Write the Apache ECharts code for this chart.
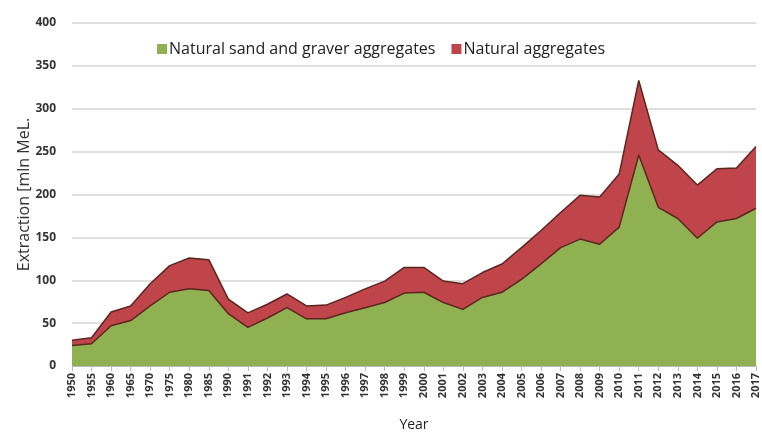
<!DOCTYPE html>
<html>
<head>
<meta charset="utf-8">
<script src="https://cdn.jsdelivr.net/npm/echarts@6/dist/echarts.min.js"></script>
<style>
  html, body { margin: 0; padding: 0; background: #fff; }
  #chart { width: 762px; height: 432px; }
</style>
</head>
<body>
<div id="chart"></div>
<script>
// years on the x axis
const years = ['1950', '1955', '1960', '1965', '1970', '1975', '1980', '1985', '1990',
  '1991', '1992', '1993', '1994', '1995', '1996', '1997', '1998', '1999', '2000',
  '2001', '2002', '2003', '2004', '2005', '2006', '2007', '2008', '2009', '2010',
  '2011', '2012', '2013', '2014', '2015', '2016', '2017']

// natural sand and gravel aggregates (bottom layer)
const sandGravel = [24, 26, 47, 53, 70, 86, 90, 88, 61,
  45, 56, 68, 55, 55, 62, 68, 74, 85, 86,
  74, 66, 80, 86, 101, 119, 138, 148, 142, 162,
  246, 185, 172, 149, 168, 172, 184]

// natural aggregates in total (top of the red layer)
const aggregatesTotal = [30, 33, 63, 70, 96, 117, 126, 124, 78,
  62, 72, 84, 70, 71, 80, 90, 99, 115, 115,
  99, 96, 109, 119, 138, 158, 179, 199, 197, 224,
  333, 252, 234, 211, 230, 231, 256]

const chart = echarts.init(document.getElementById('chart'))
const edge = { color: '#5b2620', width: 1.5 }

chart.setOption({
  animation: false,
  textStyle: { fontFamily: 'Open Sans' },
  legend: {
    data: ['Natural sand and graver aggregates', 'Natural aggregates'],
    top: 36,
    left: 152,
    itemWidth: 10,
    itemHeight: 10,
    itemGap: 16,
    icon: 'rect',
    textStyle: { color: '#222', fontSize: 16, fontFamily: 'Open Sans', padding: [0, 0, 0, -3] }
  },
  grid: { left: 72, right: 6, top: 23, bottom: 66, outerBoundsMode: 'none' },
  xAxis: {
    type: 'category',
    data: years,
    boundaryGap: false,
    name: 'Year',
    nameLocation: 'middle',
    nameGap: 52,
    nameTextStyle: { color: '#222', fontSize: 14 },
    axisLine: { lineStyle: { color: '#bbb' } },
    axisTick: { show: true, alignWithLabel: true, lineStyle: { color: '#bbb' } },
    axisLabel: {
      interval: 0,
      rotate: 90,
      color: '#333',
      fontSize: 11,
      fontWeight: 'bold',
      margin: 7
    }
  },
  yAxis: {
    type: 'value',
    min: 0,
    max: 400,
    interval: 50,
    name: 'Extraction [mln MeL.',
    nameLocation: 'middle',
    nameGap: 40,
    nameMoveOverlap: false,
    nameTextStyle: { color: '#333', fontSize: 16 },
    axisLine: { show: false },
    axisTick: { show: false },
    axisLabel: { color: '#333', fontSize: 12, fontWeight: 'bold', margin: 16 },
    splitLine: { lineStyle: { color: '#d4d4d4', width: 1.5 } }
  },
  series: [
    {
      name: 'Natural aggregates',
      type: 'line',
      data: aggregatesTotal,
      symbol: 'none',
      z: 2,
      lineStyle: edge,
      itemStyle: { color: '#c0454a' },
      areaStyle: { color: '#c0454a', opacity: 1 }
    },
    {
      name: 'Natural sand and graver aggregates',
      type: 'line',
      data: sandGravel,
      symbol: 'none',
      z: 3,
      lineStyle: edge,
      itemStyle: { color: '#8fb152' },
      areaStyle: { color: '#8fb152', opacity: 1 }
    }
  ]
})
</script>
</body>
</html>
